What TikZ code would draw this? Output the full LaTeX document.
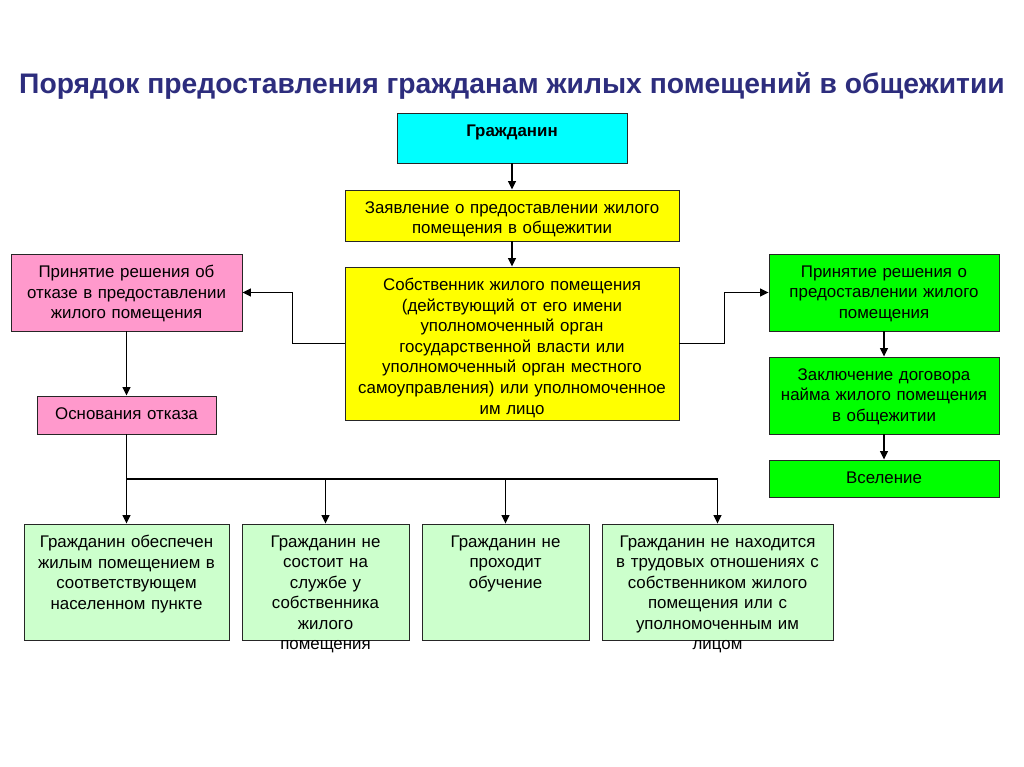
\documentclass[tikz,border=0pt]{standalone}
\usepackage{fontspec}
\setmainfont{Liberation Sans}
\usetikzlibrary{positioning,fit,arrows.meta}
\definecolor{titleblue}{RGB}{45,45,125}
\definecolor{cyanbox}{RGB}{0,255,255}
\definecolor{yelbox}{RGB}{255,255,0}
\definecolor{pinkbox}{RGB}{255,153,204}
\definecolor{grnbox}{RGB}{0,255,0}
\definecolor{ltgrn}{RGB}{204,255,204}
\begin{document}
\begin{tikzpicture}[x=0.025cm,y=-0.025cm,>={Triangle[length=6pt,width=5.5pt]},
  box/.style={draw=black!85,line width=0.6pt,inner sep=0pt},
  txt/.style={align=center,inner sep=0pt,text width=9cm,
    font=\fontsize{12}{14.6}\selectfont},
  link/.style={line width=1pt}]
\useasboundingbox (0,0) rectangle (1024,767);
\fill[white] (0,0) rectangle (1024,767);
% title
\node[font=\fontsize{20.1}{24}\selectfont\bfseries,text=titleblue] (title) at (512,86)
  {Порядок предоставления гражданам жилых помещений в общежитии};
% boxes
\node[box,fill=cyanbox,fit={(397,113) (627,163)}] (cit) {};
\node[box,fill=yelbox,fit={(345,190) (679,241)}] (app) {};
\node[box,fill=yelbox,fit={(345,267) (679,420)}] (own) {};
\node[box,fill=pinkbox,fit={(11,254) (242,331)}] (ref) {};
\node[box,fill=pinkbox,fit={(37,396) (216,434)}] (gnd) {};
\node[box,fill=grnbox,fit={(769,254) (999,331)}] (acc) {};
\node[box,fill=grnbox,fit={(769,357) (999,434)}] (con) {};
\node[box,fill=grnbox,fit={(769,460) (999,497)}] (mov) {};
\node[box,fill=ltgrn,fit={(24,524) (229,640)}] (b1) {};
\node[box,fill=ltgrn,fit={(242,524) (409,640)}] (b2) {};
\node[box,fill=ltgrn,fit={(422,524) (589,640)}] (b3) {};
\node[box,fill=ltgrn,fit={(602,524) (833,640)}] (b4) {};
% texts
\node[txt,font=\fontsize{12}{14.6}\selectfont\bfseries,below=2.9mm of cit.north] {Гражданин};
\node[txt,below=2.9mm of app.north] {Заявление о предоставлении жилого\\помещения в общежитии};
\node[txt,below=2.9mm of own.north] {Собственник жилого помещения\\(действующий от его имени\\уполномоченный орган\\государственной власти или\\уполномоченный орган местного\\самоуправления) или уполномоченное\\им лицо};
\node[txt,below=2.9mm of ref.north] {Принятие решения об\\отказе в предоставлении\\жилого помещения};
\node[txt,below=2.9mm of gnd.north] {Основания отказа};
\node[txt,below=2.9mm of acc.north] {Принятие решения о\\предоставлении жилого\\помещения};
\node[txt,below=2.9mm of con.north] {Заключение договора\\найма жилого помещения\\в общежитии};
\node[txt,below=2.9mm of mov.north] {Вселение};
\node[txt,below=2.9mm of b1.north] {Гражданин обеспечен\\жилым помещением в\\соответствующем\\населенном пункте};
\node[txt,below=2.9mm of b2.north] {Гражданин не\\состоит на\\службе у\\собственника\\жилого\\помещения};
\node[txt,below=2.9mm of b3.north] {Гражданин не\\проходит\\обучение};
\node[txt,below=2.9mm of b4.north] {Гражданин не находится\\в трудовых отношениях с\\собственником жилого\\помещения или с\\уполномоченным им\\лицом};
% connectors
\draw[link,->] (cit) -- (app);
\draw[link,->] (app) -- (own);
\draw[link,->] (own.west) -- ++(-52,0) |- (ref);
\draw[link,->] (own.east) -- ++(45,0) |- (acc);
\draw[link,->] (ref) -- (gnd);
\draw[link,->] (acc) -- (con);
\draw[link,->] (con) -- (mov);
\coordinate (bus) at (gnd.south |- 0,479);
\draw[link] (gnd) -- (bus) -- (bus -| b4);
\foreach \b in {b1,b2,b3,b4}
  \draw[link,->] (bus -| \b) -- (\b);
\end{tikzpicture}
\end{document}
